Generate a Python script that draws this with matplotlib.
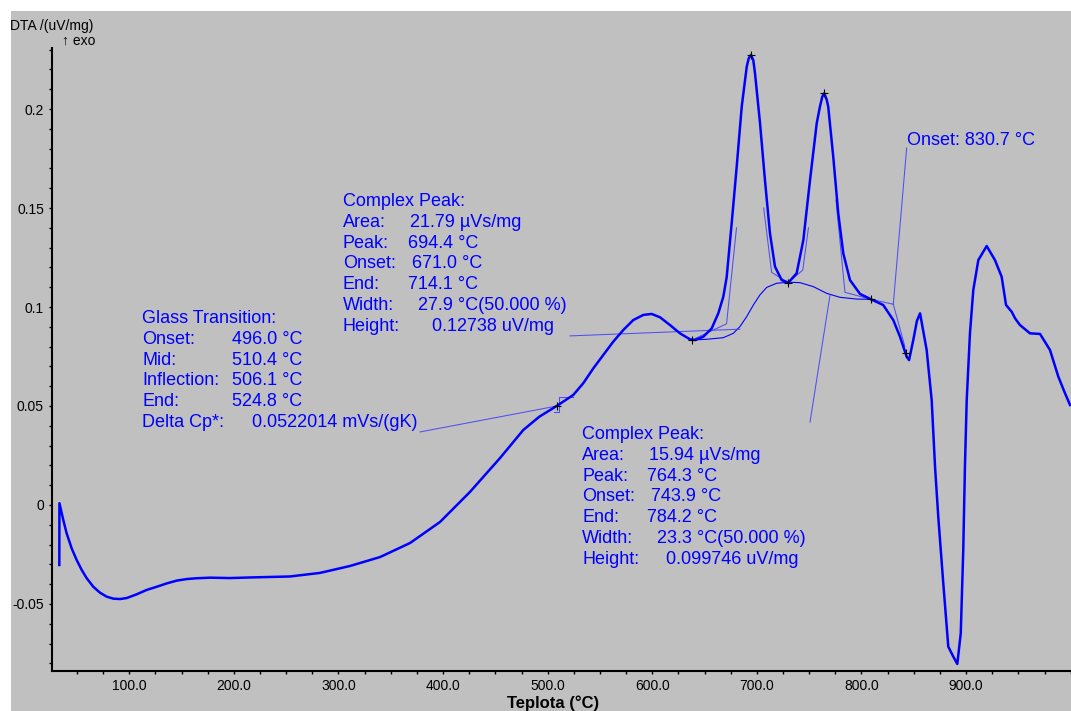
import matplotlib.pyplot as plt
from matplotlib.patches import Rectangle
from matplotlib.ticker import FixedLocator, MultipleLocator

plt.rcParams['font.family'] = ['Liberation Sans', 'DejaVu Sans']

# DTA signal: temperature (°C) and signal (uV/mg)
temp = [33.1, 33.2, 36.9, 40.1, 44.9, 49.7, 54.5, 59.3, 65.6, 72.0, 78.4, 84.7, 91.1,
        97.5, 107.1, 116.6, 126.2, 135.8, 145.3, 154.9, 164.4, 177.2, 196.3, 215.4,
        253.6, 282.3, 311.0, 339.7, 368.4, 397.0, 425.7, 454.4, 476.7, 492.0, 508.6,
        524.5, 534.0, 543.6, 553.2, 562.7, 572.3, 581.8, 591.4, 599.4, 607.4, 616.9,
        626.5, 636.0, 640.8, 648.8, 656.8, 663.1, 667.9, 671.1, 675.9, 680.7, 685.5,
        690.3, 692.2, 694.4, 696.6, 698.2, 703.0, 707.7, 712.5, 717.3, 723.7, 730.0,
        738.0, 744.4, 750.8, 757.2, 760.2, 762.5, 764.3, 766.7, 768.2, 773.0, 777.8,
        782.6, 789.0, 798.6, 809.1, 820.8, 830.4, 836.8, 843.2, 845.5, 849.5, 853.0,
        856.0, 862.3, 867.1, 870.3, 873.4, 878.2, 883.0, 887.8, 891.6, 894.9, 897.3,
        898.9, 900.6, 903.7, 906.9, 911.7, 919.7, 927.6, 934.0, 938.2, 943.6, 946.8,
        951.5, 961.1, 970.7, 980.2, 988.2, 994.6, 999.4]
dta = [-0.0303, 0.0009, -0.0076, -0.0143, -0.0219, -0.0278, -0.0328, -0.0370, -0.0413,
       -0.0443, -0.0463, -0.0473, -0.0475, -0.0470, -0.0451, -0.0429, -0.0413, -0.0396,
       -0.0382, -0.0374, -0.0370, -0.0367, -0.0369, -0.0366, -0.0361, -0.0343, -0.0308,
       -0.0263, -0.0192, -0.0086, 0.0066, 0.0237, 0.0379, 0.0446, 0.0500, 0.0556, 0.0615,
       0.0690, 0.0758, 0.0825, 0.0884, 0.0934, 0.0960, 0.0965, 0.0948, 0.0909, 0.0867,
       0.0837, 0.0833, 0.0850, 0.0892, 0.0968, 0.1052, 0.1150, 0.1423, 0.1709, 0.2012,
       0.2214, 0.2256, 0.2273, 0.2245, 0.2180, 0.1928, 0.1641, 0.1372, 0.1204, 0.1136,
       0.1123, 0.1170, 0.1338, 0.1641, 0.1928, 0.2010, 0.2062, 0.2079, 0.2048, 0.2012,
       0.1759, 0.1473, 0.1271, 0.1136, 0.1066, 0.1039, 0.1010, 0.0934, 0.0850, 0.0749,
       0.0732, 0.0833, 0.0930, 0.0968, 0.0783, 0.0530, 0.0194, -0.0059, -0.0396, -0.0716,
       -0.0766, -0.0803, -0.0648, -0.0227, 0.0194, 0.0530, 0.0867, 0.1086, 0.1237, 0.1308,
       0.1237, 0.1153, 0.1010, 0.0976, 0.0943, 0.0909, 0.0867, 0.0864, 0.0783, 0.0648,
       0.0564, 0.0505]

# sigmoid baseline under the double peak
base_t = [637.7, 652.0, 667.9, 677.4, 683.8, 690.2, 696.6, 702.9, 709.4, 718.9, 730.0,
          741.2, 753.9, 766.7, 779.4, 795.4, 809.1]
base_v = [0.0833, 0.0837, 0.0845, 0.0867, 0.0901, 0.0951, 0.1010, 0.1061, 0.1099, 0.1120,
          0.1125, 0.1123, 0.1103, 0.1069, 0.1049, 0.1040, 0.1039]

# evaluation construction lines (T, value)
tangent_1l = [(637.7, 0.0833), (671.0, 0.0915), (680.5, 0.1400)]
tangent_1r = [(706.5, 0.1500), (714.1, 0.1175), (730.0, 0.1123)]
tangent_2l = [(730.0, 0.1123), (743.9, 0.1187), (749.3, 0.1400)]
tangent_2r = [(775.6, 0.1540), (784.2, 0.1074), (809.1, 0.1039)]
onset_line = [(809.1, 0.1039), (830.4, 0.1014), (843.2, 0.1803)]
onset_drop = [(830.4, 0.1014), (841.5, 0.0800)]
glass_box = [(506.0, 0.0471), (510.8, 0.0471), (510.8, 0.0547), (524.5, 0.0547)]
leader_glass = [(378.0, 0.0369), (508.9, 0.0500)]
leader_peak1 = [(521.3, 0.0854), (683.8, 0.0888)]
leader_peak2 = [(769.9, 0.1060), (750.8, 0.0419)]

# evaluated points
mark_t = [694.4, 764.3, 637.7, 730.0, 809.1, 843.0, 508.6]
mark_v = [0.2273, 0.2079, 0.0833, 0.1123, 0.1039, 0.0766, 0.0500]

y_ticks = [-0.05, 0, 0.05, 0.1, 0.15, 0.2]
y_labels = ['-0.05', '0', '0.05', '0.1', '0.15', '0.2']
x_ticks = [100, 200, 300, 400, 500, 600, 700, 800, 900]
x_labels = ['100.0', '200.0', '300.0', '400.0', '500.0', '600.0', '700.0', '800.0', '900.0']

glass_text = [('Glass Transition:', ''), ('Onset:', '496.0 °C'), ('Mid:', '510.4 °C'),
              ('Inflection:', '506.1 °C'), ('End:', '524.8 °C'),
              ('Delta Cp*:', '0.0522014 mVs/(gK)')]
peak1_text = [('Complex Peak:', ''), ('Area:', '21.79 µVs/mg'), ('Peak:', '694.4 °C'),
              ('Onset:', '671.0 °C'), ('End:', '714.1 °C'), ('Width:', '27.9 °C(50.000 %)'),
              ('Height:', '0.12738 uV/mg')]
peak2_text = [('Complex Peak:', ''), ('Area:', '15.94 µVs/mg'), ('Peak:', '764.3 °C'),
              ('Onset:', '743.9 °C'), ('End:', '784.2 °C'), ('Width:', '23.3 °C(50.000 %)'),
              ('Height:', '0.099746 uV/mg')]

W, H = 1071, 711
BLUE = '#0000ff'

fig = plt.figure(figsize=(W / 100, H / 100), dpi=100)
fig.patch.set_facecolor('white')
fig.patches.append(Rectangle((11 / W, 0), 1 - 11 / W, 1 - 11 / H, transform=fig.transFigure,
                             facecolor='#c0c0c0', edgecolor='none', zorder=-10))

ax = fig.add_axes([52 / W, (H - 671) / H, (W - 52) / W, (671 - 48) / H])
ax.set_facecolor('none')
ax.set_xlim(26.1, 1000.3)
ax.set_ylim(-0.08384, 0.23081)

ax.plot(base_t, base_v, color=BLUE, lw=0.8)
for seg in [tangent_1l, tangent_1r, tangent_2l, tangent_2r, onset_line, onset_drop,
            glass_box, leader_glass, leader_peak1, leader_peak2]:
    xs, ys = zip(*seg)
    ax.plot(xs, ys, color='#3a3aff', lw=0.75, alpha=0.85)

ax.plot(temp, dta, color=BLUE, lw=1.8, zorder=3)
ax.plot(mark_t, mark_v, ls='none', marker='+', ms=6, mew=0.8, color='black', zorder=4)

for side in ['top', 'right']:
    ax.spines[side].set_visible(False)
for side in ['left', 'bottom']:
    ax.spines[side].set_linewidth(1.5)

ax.yaxis.set_major_locator(FixedLocator(y_ticks))
ax.set_yticklabels(y_labels)
ax.yaxis.set_minor_locator(MultipleLocator(0.01))
ax.xaxis.set_major_locator(FixedLocator(x_ticks))
ax.set_xticklabels(x_labels)
ax.xaxis.set_minor_locator(MultipleLocator(25))
ax.tick_params(axis='both', which='both', direction='out', length=2.4, width=1,
               labelsize=10, colors='black')
ax.tick_params(axis='y', pad=3.4)
ax.tick_params(axis='x', pad=3.0)


def px(x, y):
    return x / W, 1 - y / H


def block(lines, x0, xv, y0, step=20.8):
    for i, (label, value) in enumerate(lines):
        yb = y0 + i * step + 6
        fig.text(*px(x0, yb), label, color=BLUE, fontsize=13, va='baseline')
        if value:
            fig.text(*px(xv[i], yb), value, color=BLUE, fontsize=13, va='baseline')


block(glass_text, 142, [0, 232, 232, 232, 232, 252], 317)
block(peak1_text, 343, [0, 410, 408, 412, 408, 418, 432], 200)
block(peak2_text, 582, [0, 649, 647, 651, 647, 657, 666], 433)
fig.text(*px(907, 145), 'Onset: 830.7 °C', color=BLUE, fontsize=13, va='baseline')

fig.text(*px(10, 30), 'DTA /(uV/mg)', fontsize=10, va='baseline')
fig.text(*px(62, 45), '↑ exo', fontsize=10, va='baseline')
fig.text(*px(553, 708), 'Teplota (°C)', fontsize=12, fontweight='bold', ha='center',
         va='baseline')

fig.savefig('out.png', dpi=100)
